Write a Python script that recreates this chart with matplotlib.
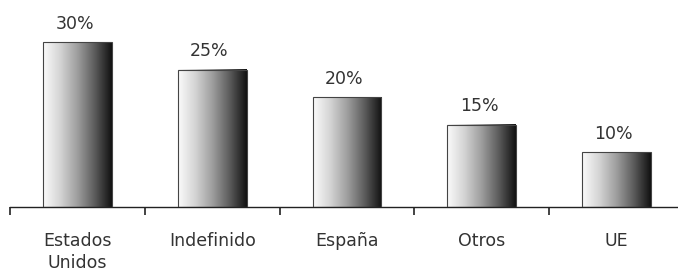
import numpy as np
import matplotlib
matplotlib.use("Agg")
import matplotlib.pyplot as plt
from matplotlib.colors import LinearSegmentedColormap

categories = ["Estados\nUnidos", "Indefinido", "España", "Otros", "UE"]
values = [30, 25, 20, 15, 10]
value_labels = ["30%", "25%", "20%", "15%", "10%"]

plt.rcParams["font.family"] = ["DejaVu Sans"]

fig = plt.figure(figsize=(6.78, 2.75), dpi=100)
ax = fig.add_axes([10 / 678, 68 / 275, 674 / 678, 192.5 / 275])

x = np.arange(len(values))
bars = ax.bar(x, values, width=0.51, color="none", edgecolor="#444444", linewidth=0.8, zorder=3)

# grey gradient, light on the left, dark on the right
cmap = LinearSegmentedColormap.from_list(
    "shade", ["#fbfbfb", "#d4d4d4", "#9e9e9e", "#5c5c5c", "#111111"]
)
gradient = np.linspace(0, 1, 256).reshape(1, -1)
for rect in bars:
    x0, w, h = rect.get_x(), rect.get_width(), rect.get_height()
    ax.imshow(gradient, cmap=cmap, aspect="auto", extent=(x0, x0 + w, 0, h), zorder=2)

for xi, v, lab in zip(x, values, value_labels):
    ax.text(xi - 0.02, v + 1.7, lab, ha="center", va="bottom", fontsize=12.5, color="#333333")

ax.set_xlim(-0.5, len(values) - 0.5)
ax.set_ylim(0, 35)
for s in ["top", "right", "left"]:
    ax.spines[s].set_visible(False)
ax.spines["bottom"].set_color("#222222")
ax.spines["bottom"].set_linewidth(1.0)
ax.set_yticks([])
ax.set_xticks(np.arange(len(values) + 1) - 0.5)
ax.set_xticklabels([])
ax.set_xticks(x, minor=True)
ax.set_xticklabels(categories, minor=True, fontsize=12.5, color="#333333", linespacing=1.25)
ax.tick_params(axis="x", which="major", direction="out", length=6, width=1.2, color="#222222")
ax.tick_params(axis="x", which="minor", length=0, pad=18)

fig.savefig("out.png", dpi=100)
